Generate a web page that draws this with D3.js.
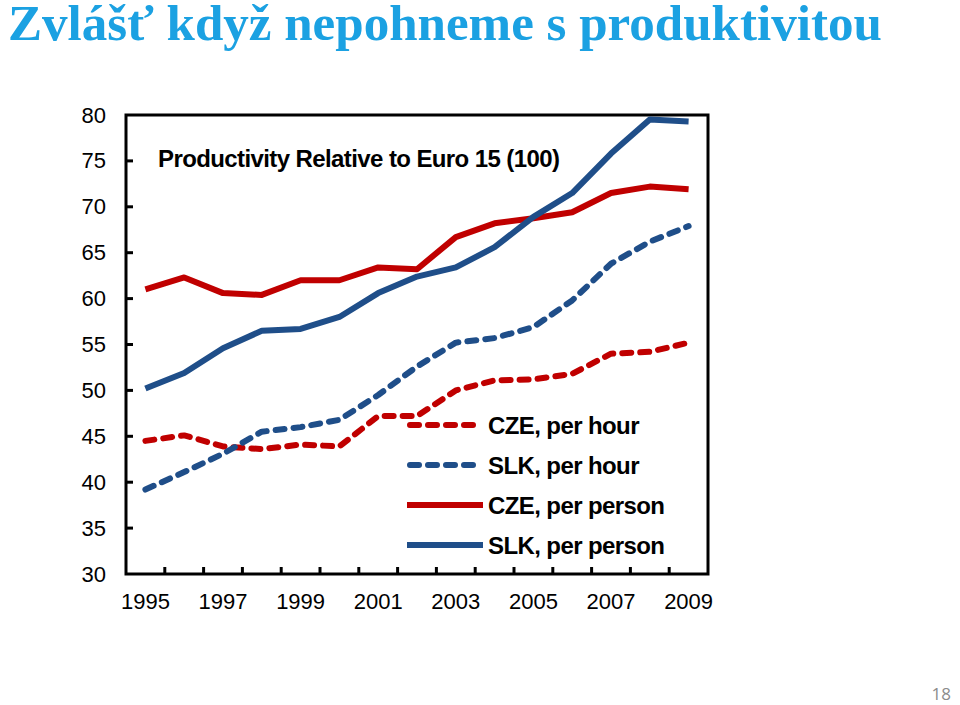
<!DOCTYPE html>
<html><head><meta charset="utf-8">
<script src="https://cdn.jsdelivr.net/npm/d3@7"></script>
<style>body{margin:0;background:#fff}svg{display:block}</style>
</head><body>
<svg id="c" width="960" height="705"></svg>
<script>
const years = [1995,1996,1997,1998,1999,2000,2001,2002,2003,2004,2005,2006,2007,2008,2009];
const czeHour   = [44.5,45.1,43.9,43.6,44.1,43.9,47.2,47.2,50.0,51.1,51.2,51.8,54.0,54.2,55.2];
const slkHour   = [39.2,41.1,43.1,45.5,46.0,46.8,49.5,52.6,55.2,55.7,56.9,59.8,63.8,66.2,67.9];
const czePerson = [61.0,62.3,60.6,60.4,62.0,62.0,63.4,63.2,66.7,68.2,68.75,69.4,71.5,72.2,71.9];
const slkPerson = [50.2,51.9,54.6,56.5,56.7,58.0,60.6,62.4,63.4,65.6,68.9,71.5,75.8,79.5,79.3];
const yTicks = [30,35,40,45,50,55,60,65,70,75,80];
const xLabels = [1995,1997,1999,2001,2003,2005,2007,2009];
const seriesNames = ["CZE, per hour","SLK, per hour","CZE, per person","SLK, per person"];

const RED = "#C00000", BLUE = "#1F4E89";
const series = [
  {name:seriesNames[0], values:czeHour, color:RED, dash:true},
  {name:seriesNames[1], values:slkHour, color:BLUE, dash:true},
  {name:seriesNames[2], values:czePerson, color:RED, dash:false},
  {name:seriesNames[3], values:slkPerson, color:BLUE, dash:false}
];

const svg = d3.select("#c");
const L = 126, R = 708, T = 115, B = 574;
const x = d3.scaleBand().domain(years).range([L, R]);
const y = d3.scaleLinear().domain([30, 80]).range([B, T]);
const cx = d => x(d) + x.bandwidth()/2;

// slide title
const title = svg.append("text").attr("x", 8).attr("y", 40)
  .attr("font-family", "Liberation Serif, Times New Roman, serif").attr("font-weight", "bold")
  .attr("font-size", 44).attr("fill", "#1BA1E2").text("Zvlášť když nepohneme s produktivitou");
const tw = title.node().getComputedTextLength();
title.attr("font-size", 44 * 874 / tw);

// page number
svg.append("text").attr("x", 951).attr("y", 700).attr("text-anchor", "end")
  .attr("font-family", "Open Sans, Liberation Sans, sans-serif").attr("font-size", 17)
  .attr("fill", "#8c8c8c").text("18");

// y axis labels + ticks
const yAxis = d3.axisLeft(y).tickValues(yTicks).tickSize(0).tickPadding(0);
const ya = svg.append("g").attr("transform", `translate(106,0)`).call(yAxis);
ya.select(".domain").remove();
ya.selectAll("text").attr("font-family", "Liberation Sans, Arial, sans-serif").attr("font-size", 22).attr("fill", "#000");

svg.append("g").selectAll("line").data(yTicks.slice(1, -1)).join("line")
  .attr("x1", L).attr("x2", L + 7).attr("y1", d => y(d)).attr("y2", d => y(d))
  .attr("stroke", "#000").attr("stroke-width", 3);

// x ticks between categories
svg.append("g").selectAll("line").data(years.slice(1)).join("line")
  .attr("x1", d => x(d)).attr("x2", d => x(d)).attr("y1", B).attr("y2", B - 7)
  .attr("stroke", "#000").attr("stroke-width", 3);

// x labels
const xAxis = d3.axisBottom(x).tickValues(xLabels).tickSize(0).tickPadding(0);
const xa = svg.append("g").attr("transform", `translate(0,${B + 19})`).call(xAxis);
xa.select(".domain").remove();
xa.selectAll("text").attr("font-family", "Liberation Sans, Arial, sans-serif").attr("font-size", 22).attr("fill", "#000");

// frame
svg.append("rect").attr("x", L).attr("y", T).attr("width", R - L).attr("height", B - T)
  .attr("fill", "none").attr("stroke", "#000").attr("stroke-width", 3);

// chart title
svg.append("text").attr("x", 158).attr("y", 167)
  .attr("font-family", "Liberation Sans, Arial, sans-serif").attr("font-weight", "bold")
  .attr("font-size", 24).attr("letter-spacing", -0.6).attr("fill", "#000")
  .text("Productivity Relative to Euro 15 (100)");

// lines
const line = d3.line().x((d, i) => cx(years[i])).y(d => y(d));
svg.append("g").selectAll("path").data(series).join("path")
  .attr("d", d => line(d.values)).attr("fill", "none")
  .attr("stroke", d => d.color).attr("stroke-width", 6)
  .attr("stroke-linecap", d => d.dash ? "round" : "butt").attr("stroke-linejoin", "round")
  .attr("stroke-dasharray", d => d.dash ? "9,9" : null);

// legend
const lg = svg.append("g").selectAll("g").data(series).join("g")
  .attr("transform", (d, i) => `translate(0,${426 + i * 40})`);
lg.append("line").attr("x1", d => d.dash ? 410 : 407).attr("x2", d => d.dash ? 480 : 483)
  .attr("y1", -1).attr("y2", -1)
  .attr("stroke", d => d.color).attr("stroke-width", 6)
  .attr("stroke-linecap", d => d.dash ? "round" : "butt")
  .attr("stroke-dasharray", d => d.dash ? "9,9" : null);
lg.append("text").attr("x", 488).attr("y", 8)
  .attr("font-family", "Liberation Sans, Arial, sans-serif").attr("font-weight", "bold")
  .attr("font-size", 24).attr("letter-spacing", -0.6).attr("fill", "#000").text(d => d.name);
</script>
</body></html>
